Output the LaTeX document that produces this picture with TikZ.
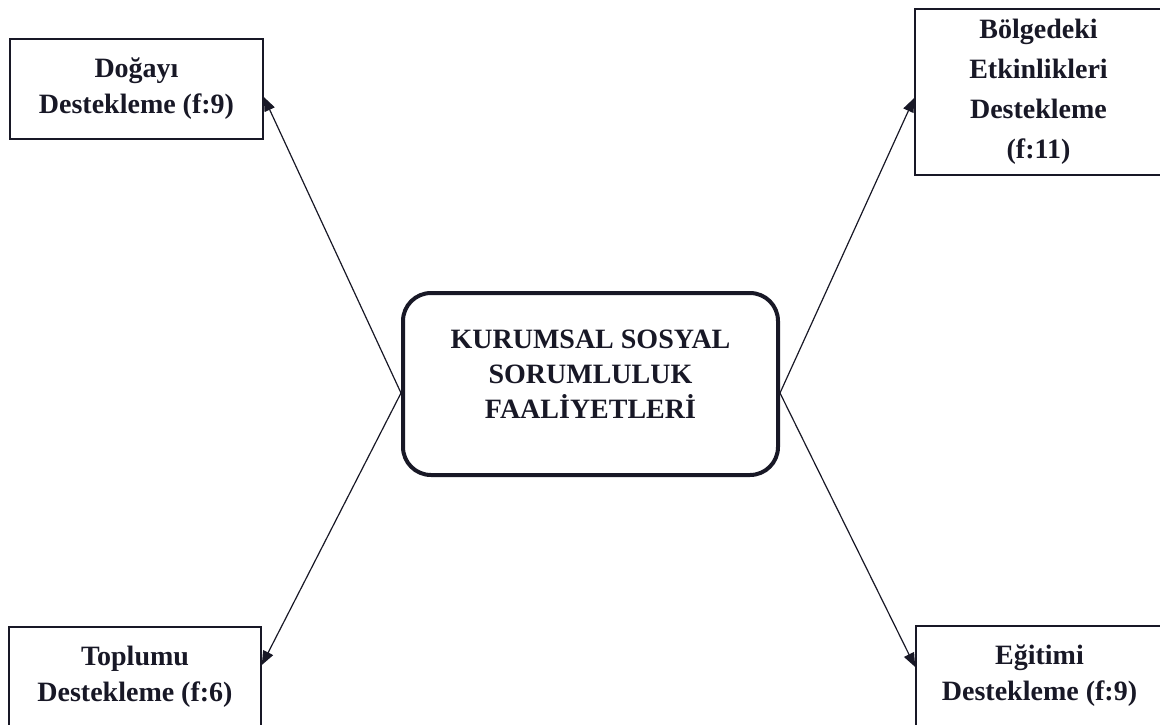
\documentclass[tikz,border=0pt]{standalone}
\usepackage{fontspec}
\setmainfont{Liberation Serif}
\usepackage{xcolor}
\usetikzlibrary{arrows.meta}
\definecolor{murekkep}{RGB}{24,24,38}

\begin{document}
\begin{tikzpicture}[x=1pt,y=-1pt]%
  \tikzstyle{destek}=[rectangle,draw=murekkep,text=murekkep,line width=1.6pt,inner sep=0,align=center,minimum width=250pt,minimum height=100pt,font=\fontsize{28}{36}\selectfont\bfseries]
  \tikzstyle{merkez}=[rectangle,rounded corners=28pt,draw=murekkep,text=murekkep,line width=4pt,inner sep=0,align=center,text depth=19pt,font=\fontsize{28}{35}\selectfont\bfseries]
  \tikzstyle{ok}=[draw=murekkep,line width=1.2pt,-{Triangle[length=14pt,width=11pt]}]
  \path[use as bounding box,clip] (0,0) rectangle (1160,724);
  % merkez kutu
  \node(kss)[merkez,minimum width=375pt,minimum height=182pt] at (590.5,384) {KURUMSAL SOSYAL\\SORUMLULUK\\FAALİYETLERİ};
  % destek kutulari
  \node(dog)[destek,minimum width=253pt] at (136.5,89) {Doğayı\\Destekleme (f:9)};
  \node(bolge)[destek,minimum width=247pt,minimum height=166pt,font=\fontsize{28}{40}\selectfont\bfseries] at (1038.5,92) {Bölgedeki\\Etkinlikleri\\Destekleme\\(f:11)};
  \node(toplum)[destek,minimum width=252pt] at (135,677) {Toplumu\\Destekleme (f:6)};
  \node(egitim)[destek,minimum width=247pt] at (1039.5,676) {Eğitimi\\Destekleme (f:9)};
  % oklar
  \draw[ok] ([yshift=-9pt]kss.west) -- ([yshift=-8pt]dog.east);
  \draw[ok] ([yshift=-9pt]kss.east) -- ([yshift=-6pt]bolge.west);
  \draw[ok] ([yshift=-9pt]kss.west) -- ([yshift=12pt]toplum.east);
  \draw[ok] ([yshift=-9pt]kss.east) -- ([yshift=9pt]egitim.west);
\end{tikzpicture}
\end{document}
